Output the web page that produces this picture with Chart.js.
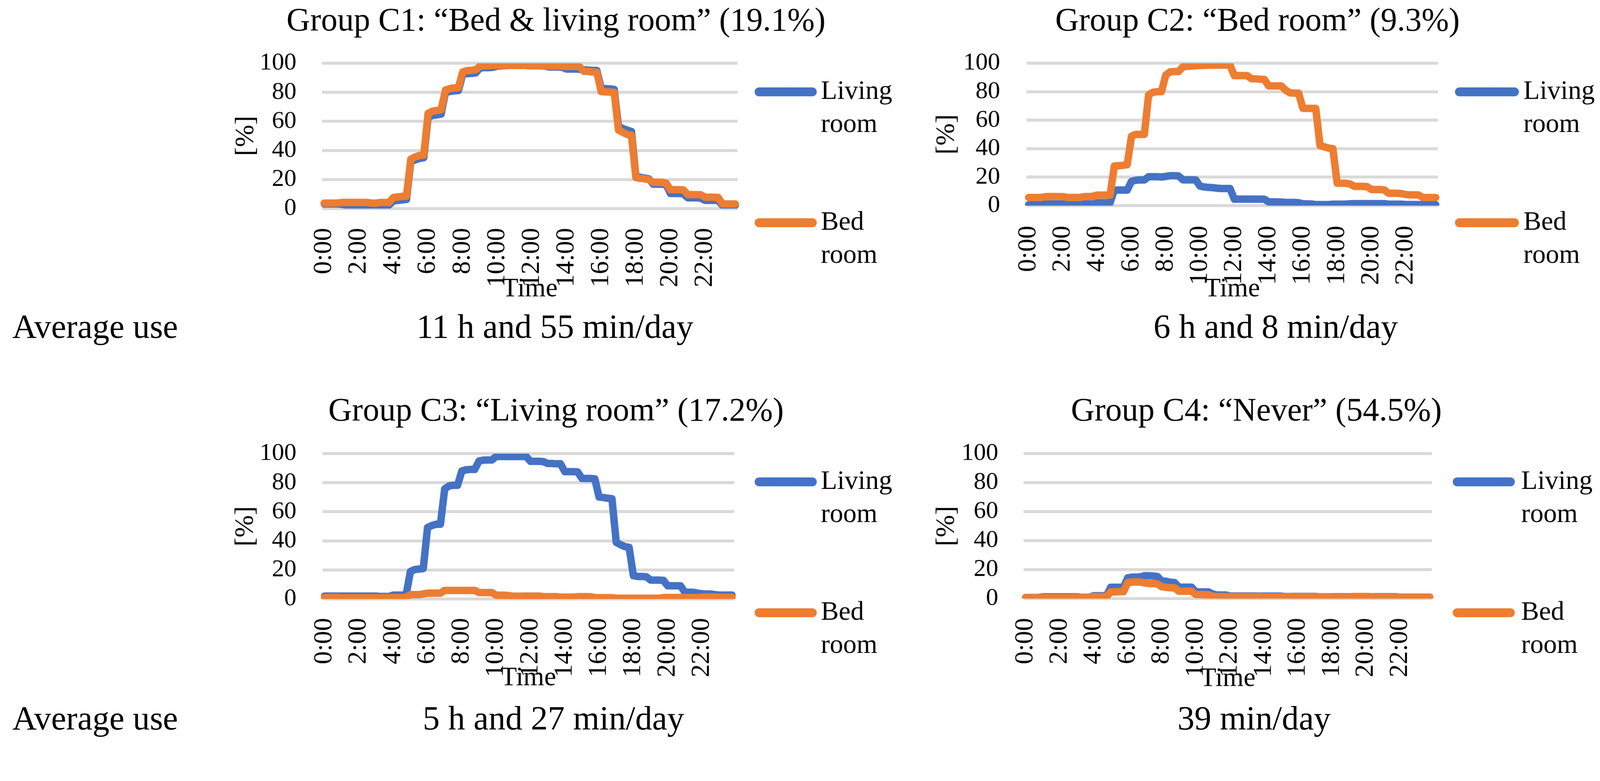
<!DOCTYPE html>
<html><head><meta charset="utf-8">
<script src="https://cdn.jsdelivr.net/npm/chart.js@4.4.1/dist/chart.umd.min.js"></script>
<style>
html,body{margin:0;padding:0;background:#fff;overflow:hidden;width:100%;height:100%;}
#stage{position:absolute;left:0;top:0;width:4302px;height:2000px;transform-origin:0 0;font-family:'Liberation Serif',serif;color:#000;background:#fff;}
canvas{position:absolute;}
.txt{position:absolute;font-size:91px;line-height:91px;white-space:nowrap;z-index:2;}
.ctr{text-align:center;width:1200px;}
</style></head><body>
<div id="stage">
<canvas id="c1" width="1854" height="840" style="left:560px;top:0px;width:1854px;height:840px"></canvas>
<canvas id="c2" width="1850" height="840" style="left:2450px;top:0px;width:1850px;height:840px"></canvas>
<canvas id="c3" width="1853" height="880" style="left:560px;top:1000px;width:1853px;height:880px"></canvas>
<canvas id="c4" width="1860" height="880" style="left:2440px;top:1000px;width:1860px;height:880px"></canvas>
<div class="txt" style="left:33px;top:833px">Average use</div>
<div class="txt ctr" style="left:892px;top:833px">11 h and 55 min/day</div>
<div class="txt ctr" style="left:2830px;top:833px">6 h and 8 min/day</div>
<div class="txt" style="left:33px;top:1886px">Average use</div>
<div class="txt ctr" style="left:888px;top:1886px">5 h and 27 min/day</div>
<div class="txt ctr" style="left:2772px;top:1886px">39 min/day</div>
</div>
<script>
(function fitStage(){
  const s = (window.innerWidth || 4302) / 4302;
  document.getElementById('stage').style.transform = 'scale(' + s + ')';
})();

const TIMES = ["0:00","0:15","0:30","0:45","1:00","1:15","1:30","1:45","2:00","2:15","2:30","2:45",
"3:00","3:15","3:30","3:45","4:00","4:15","4:30","4:45","5:00","5:15","5:30","5:45",
"6:00","6:15","6:30","6:45","7:00","7:15","7:30","7:45","8:00","8:15","8:30","8:45",
"9:00","9:15","9:30","9:45","10:00","10:15","10:30","10:45","11:00","11:15","11:30","11:45",
"12:00","12:15","12:30","12:45","13:00","13:15","13:30","13:45","14:00","14:15","14:30","14:45",
"15:00","15:15","15:30","15:45","16:00","16:15","16:30","16:45","17:00","17:15","17:30","17:45",
"18:00","18:15","18:30","18:45","19:00","19:15","19:30","19:45","20:00","20:15","20:30","20:45",
"21:00","21:15","21:30","21:45","22:00","22:15","22:30","22:45","23:00","23:15","23:30","23:45"];
const TICK_LABELS = ["0:00","2:00","4:00","6:00","8:00","10:00","12:00","14:00","16:00","18:00","20:00","22:00"];
const SERIES_NAMES = ["Living room","Bed room"];
const TITLES = ["Group C1: \u201cBed & living room\u201d (19.1%)","Group C2: \u201cBed room\u201d (9.3%)",
"Group C3: \u201cLiving room\u201d (17.2%)","Group C4: \u201cNever\u201d (54.5%)"];

const C1_LIVING = [3.2,3.2,3.2,3.2,3.0,2.5,2.5,2.5,2.5,2.5,2.5,2.5,2.5,2.5,2.5,2.5,
5.3,5.6,6.0,6.3,32.5,33.5,34.5,35,63,64,64.5,65,80,80.5,81,81.2,
92.5,92.8,93,93.3,96.8,97,97,97.2,98,98.2,98.4,98.5,98.5,98.5,98.5,98.4,
98.2,98.2,98.2,98,97.4,97.4,97.4,97.2,96,96,96,95.8,95.5,95.3,95,95,
82.8,82.5,82.3,82,56.5,55,54,53,22.5,21.5,21,20.5,16.8,16.8,16.8,16.5,
10.4,10.4,10.4,10.2,7.4,7.4,7.4,7.2,5.7,5.7,5.7,5.6,2.3,2.3,2.3,2.3];
const C1_BED = [3.8,3.8,3.8,3.8,4.2,4.2,4.2,4.2,4.2,4.2,4.2,3.8,3.8,4.2,4.2,4.2,
7.7,8.0,8.4,8.5,34,35.5,36.5,36.8,65.5,67,67.5,68,81.5,82.5,83,83.2,
94,94.9,95.1,95.5,98,98.2,98.3,98.4,98.5,98.5,98.5,98.5,98.5,98.5,98.5,98.3,
98.2,98.2,98.2,98.2,98,98,98,97.9,97.8,97.8,97.8,97.5,94.5,94.3,94,93.8,
80.5,80.3,80.2,80,54,52.5,51,50.5,21.5,20.8,20.5,20,18,18,18,17.5,
13,13,13,12.8,9.6,9.6,9.6,9.5,7.8,7.8,7.8,7.7,3.2,3.2,3.2,3.2];

const C2_LIVING = [0.6,0.6,0.6,0.6,1.1,1.1,1.1,1.1,1.1,0.9,0.9,0.9,0.9,1.2,1.2,1.2,
2.0,2.0,2.0,2.0,10.9,10.9,10.9,10.9,17,17.8,18,18,20.3,20.3,20.3,20.1,
20.5,21,21,20.8,18.1,18.1,18.1,18,13.7,13.1,12.8,12.6,12.2,12,12,12,
4.5,4.6,4.6,4.6,4.6,4.6,4.6,4.5,2.6,2.6,2.6,2.5,2.2,2.2,2.2,2.0,
1.3,1.2,1.1,0.7,0.7,0.7,0.7,1.0,1.0,1.0,1.0,1.3,1.4,1.4,1.4,1.4,
1.4,1.4,1.4,1.4,1.0,1.0,1.0,1.0,0.7,0.7,0.7,0.7,0.7,0.7,0.7,0.7];
const C2_BED = [5.7,5.7,5.7,5.7,6.3,6.3,6.3,6.3,6.3,5.7,5.7,5.7,5.7,6.3,6.3,6.6,
7.4,7.4,7.4,7.4,27.8,28,28.3,28.7,48.7,50,50,50,77.8,79.6,80,80,
91.7,93.9,94.2,94.2,97.4,97.8,98,98.3,98.4,98.5,98.6,98.6,98.7,98.7,98.7,98.6,
91.3,91.3,91.3,91.3,89.1,89,88.8,88.6,84.1,84.1,84.1,84,81,79.2,79,79,
68.3,68.3,68.3,68.3,42.2,41.3,40.4,40,15.7,15.7,15.7,15.2,13.5,13.5,13.5,13.3,
11.3,11.3,11.3,11,8.7,8.7,8.7,8.5,7.8,7.6,7.6,7.5,5.7,5.7,5.7,5.7];

const C3_LIVING = [2.0,2.0,2.0,2.0,2.0,2.0,2.0,2.0,2.0,2.0,2.0,2.0,2.0,1.7,1.7,1.7,
2.7,2.7,2.7,2.7,18.9,20.2,20.6,20.9,49.2,50.5,51.4,51.4,75.7,77.8,78.2,78.2,
88,88.9,89.1,89.1,94.9,95.5,95.6,95.6,98,98,98,98,98,98,98,98,
94.7,94.7,94.7,94.5,93.2,93.2,93,93,87.6,87.6,87.6,87.4,82.9,82.9,82.9,82.7,
70.1,69.8,69.3,69,39,37.3,36,35.5,16,15.5,15.5,15.3,13,13,13,12.8,
9.1,9.1,9.1,9,4.6,4.6,4.6,4.0,3.6,3.4,3.4,3.0,2.7,2.7,2.7,2.7];
const C3_BED = [1.0,1.0,1.0,1.0,0.9,0.9,0.9,0.9,0.9,0.9,0.9,0.9,0.9,0.9,0.9,0.9,
1.0,1.0,1.0,1.0,3.0,3.0,3.0,3.5,4.0,4.0,4.0,4.0,5.9,5.9,5.9,5.9,
5.9,5.9,5.9,5.9,4.4,4.4,4.4,4.4,2.6,2.6,2.6,2.3,1.9,1.9,1.9,2.0,
2.0,2.0,2.0,1.6,1.6,1.6,1.6,1.3,1.3,1.3,1.3,1.6,1.6,1.6,1.6,0.9,
0.9,0.9,0.9,0.9,0.5,0.5,0.5,0.5,0.5,0.5,0.5,0.5,0.5,0.5,0.5,1.0,
1.0,1.0,1.0,1.0,1.0,1.0,1.0,1.0,1.3,1.3,1.3,1.3,1.2,1.2,1.2,1.2];

const C4_LIVING = [0.8,0.8,0.8,0.8,1.2,1.2,1.2,1.2,1.2,1.2,1.2,1.2,1.2,0.9,0.9,0.9,
2.0,2.0,2.0,2.0,7.8,7.8,7.8,7.8,14.3,14.8,14.8,15.0,15.8,15.8,15.6,15.2,
12.2,12.0,11.3,11.1,7.9,7.9,7.9,7.9,4.6,4.6,4.6,4.6,3.1,2.5,2.5,2.5,
1.8,1.8,1.8,1.8,1.8,1.8,1.8,1.7,1.7,1.7,1.7,1.7,1.7,1.4,1.4,1.5,
1.5,1.5,1.5,1.5,1.5,1.3,1.3,1.3,1.3,1.3,1.3,1.3,1.3,1.3,1.3,1.3,
1.3,1.3,1.3,1.3,1.3,1.3,1.3,1.3,1.0,1.0,1.0,1.0,1.0,1.0,1.0,1.0];
const C4_BED = [0.7,0.7,0.7,0.7,0.7,0.7,0.7,0.7,0.7,0.7,0.7,0.7,0.7,0.7,0.7,0.7,
1.4,1.4,1.4,1.4,4.6,4.6,4.8,4.8,11.1,11.4,11.4,11.4,10.8,10.4,10.4,10.1,
8.2,7.8,7.5,7.5,5.1,5.1,5.1,5.1,2.8,2.8,2.7,2.7,1.6,1.4,1.4,1.4,
1.4,1.4,1.4,1.4,1.4,1.4,1.4,1.4,1.2,1.2,1.2,1.2,1.2,1.2,1.2,1.3,
1.3,1.3,1.3,1.3,1.3,1.3,1.3,1.3,1.1,1.1,1.1,1.1,1.1,1.4,1.4,1.4,
1.4,1.4,1.0,1.0,1.0,1.0,1.0,1.0,1.0,1.0,1.0,1.0,1.0,1.0,1.0,1.0];

const Y_TICKS = {min: 0, max: 100, step: 20};
const FONT = 'Liberation Serif';
const BLUE = '#4472C4', ORANGE = '#ED7D31', GRID = '#D9D9D9';

Chart.defaults.font.family = FONT;
Chart.defaults.color = '#000';

const sideLegend = {
  id: 'sideLegend',
  afterDraw(chart, args, o) {
    const ctx = chart.ctx;
    const ds = chart.data.datasets;
    ctx.save();
    o.rows.forEach((y, k) => {
      const d = ds[k];
      ctx.strokeStyle = d.borderColor;
      ctx.lineWidth = o.lineWidth;
      ctx.lineCap = 'round';
      ctx.beginPath();
      ctx.moveTo(o.x1 + o.lineWidth / 2, y);
      ctx.lineTo(o.x2 - o.lineWidth / 2, y);
      ctx.stroke();
      ctx.fillStyle = '#000';
      ctx.font = o.fontSize + 'px "' + FONT + '"';
      ctx.textAlign = 'left';
      ctx.textBaseline = 'alphabetic';
      d.label.split(' ').forEach((w, j) => ctx.fillText(w, o.xText, y + o.firstOffset + j * o.lineGap));
    });
    ctx.restore();
  }
};

function makeChart(id, title, living, bed, g) {
  return new Chart(document.getElementById(id), {
    type: 'line',
    data: {
      labels: TIMES,
      datasets: [
        {label: SERIES_NAMES[0], data: living, borderColor: BLUE, backgroundColor: BLUE, order: 1},
        {label: SERIES_NAMES[1], data: bed, borderColor: ORANGE, backgroundColor: ORANGE, order: 0}
      ]
    },
    options: {
      responsive: false, animation: false, devicePixelRatio: 1,
      datasets: {line: {borderWidth: 20, pointRadius: 0, tension: 0, fill: false,
        borderJoinStyle: 'round', borderCapStyle: 'round'}},
      layout: {padding: {left: g.pl, right: 0, top: 0, bottom: g.pb}},
      plugins: {
        legend: {display: false}, tooltip: {enabled: false},
        title: {display: true, text: title, color: '#000',
          font: {size: 88, family: FONT, weight: 'normal', lineHeight: 1.2},
          padding: {top: g.tpt, bottom: g.tpb}},
        sideLegend: {rows: g.legRows, x1: g.legX1, x2: g.legX2, xText: g.legText,
          lineWidth: 24, fontSize: 72, firstOffset: 19, lineGap: 89}
      },
      scales: {
        x: {type: 'category', offset: true,
          grid: {display: false}, border: {display: false},
          ticks: {autoSkip: false, minRotation: 90, maxRotation: 90, padding: g.xpad,
            font: {size: 70}, color: '#000',
            callback: (v, i) => TICK_LABELS.includes(TIMES[i]) ? TIMES[i] : ''},
          title: {display: true, text: 'Time', font: {size: 72}, color: '#000', padding: 0},
          afterFit: (s) => { s.height = g.xh; }},
        y: {min: Y_TICKS.min, max: Y_TICKS.max,
          ticks: {stepSize: Y_TICKS.step, autoSkip: false, padding: g.ypad, font: {size: 66}, color: '#000'},
          grid: {color: GRID, lineWidth: 8, drawTicks: false}, border: {display: false},
          title: {display: true, text: '[%]', font: {size: 72}, color: '#000', padding: {top: g.ypt, bottom: 0}},
          afterFit: (s) => { s.width = g.yw; }},
        r: {type: 'linear', position: 'right', display: true,
          grid: {display: false}, border: {display: false}, ticks: {display: false},
          afterFit: (s) => { s.width = g.rw; }}
      }
    },
    plugins: [sideLegend]
  });
}

makeChart('c1', TITLES[0], C1_LIVING, C1_BED,
  {pl: 16, pb: 19, tpt: 6.5, tpb: 57.9, xpad: 44, xh: 260, ypad: 69, ypt: 42.8, yw: 290, rw: 431,
   legRows: [247, 599], legX1: 1469, legX2: 1636, legText: 1647});
makeChart('c2', TITLES[1], C2_LIVING, C2_BED,
  {pl: 12, pb: 19, tpt: 6.5, tpb: 57.9, xpad: 46, xh: 268, ypad: 71, ypt: 40.8, yw: 298, rw: 434,
   legRows: [247, 599], legX1: 1462, legX2: 1634, legText: 1646});
makeChart('c3', TITLES[2], C3_LIVING, C3_BED,
  {pl: 17, pb: 13, tpt: 55.5, tpb: 58.9, xpad: 43, xh: 256, ypad: 70, ypt: 40.8, yw: 290, rw: 439,
   legRows: [296, 648], legX1: 1469, legX2: 1636, legText: 1647});
makeChart('c4', TITLES[3], C4_LIVING, C4_BED,
  {pl: 16, pb: 11, tpt: 55.5, tpb: 58.9, xpad: 44, xh: 259, ypad: 68, ypt: 46.8, yw: 296, rw: 450,
   legRows: [296, 648], legX1: 1466, legX2: 1633, legText: 1650});
</script>
</body></html>
